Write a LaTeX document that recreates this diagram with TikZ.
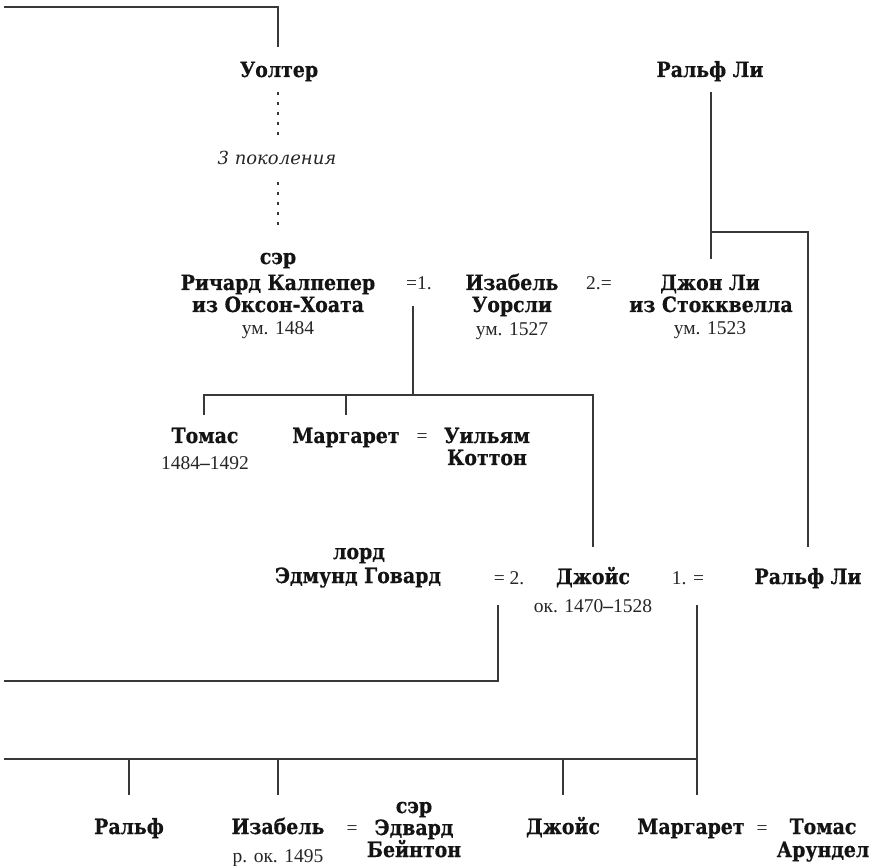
\documentclass[tikz,border=0pt]{standalone}
\usepackage{fontspec}
\setmainfont{DejaVu Serif Condensed}[BoldFeatures={FakeBold=0.6}]
\newfontfamily\datefont{Liberation Serif}
\newfontfamily\genfont{DejaVu Serif}
\newcommand{\dd}{{\bfseries –}}
\tikzset{
  nm/.style={font=\bfseries\fontsize{21}{24}\selectfont, inner sep=0pt, anchor=base, text=black!92},
  dt/.style={font=\datefont\fontsize{19.5}{22}\selectfont, inner sep=0pt, anchor=base, text=black!85},
  mk/.style={font=\datefont\fontsize{19.5}{22}\selectfont, inner sep=0pt, anchor=base, text=black!85},
  gn/.style={font=\genfont\itshape\fontsize{18}{21}\selectfont, inner sep=0pt, anchor=base, text=black!85},
  ln/.style={draw=black!78, line width=1.3pt},
  dl/.style={draw=black!78, line width=1.3pt, dash pattern=on 3pt off 7pt}
}
\begin{document}
\begin{tikzpicture}[x=1pt,y=-1pt]
\useasboundingbox (0,0) rectangle (876,866);
% ---- nodes (text lines, placed by baseline)
\node[nm] (walter) at (279,77) {Уолтер};
\node[gn] (gen) at (277,165) {3 поколения};
\node[nm] (ralphA) at (710,77) {Ральф Ли};
\node[nm] (richard0) at (278,264) {сэр};
\node[nm] (richard1) at (278,290) {Ричард Калпепер};
\node[nm] (richard2) at (278,312) {из Оксон-Хоата};
\node[dt] (richardD) at (278,335) {ум. 1484};
\node[mk] (mA) at (419,290) {=1.};
\node[nm] (isabel1) at (512,290) {Изабель};
\node[nm] (isabel2) at (512,312) {Уорсли};
\node[dt] (isabelD) at (512,336) {ум. 1527};
\node[mk] (mB) at (599,290) {2.=};
\node[nm] (john1) at (710,290) {Джон Ли};
\node[nm] (john2) at (711,312) {из Стокквелла};
\node[dt] (johnD) at (710,335) {ум. 1523};
\node[nm] (thomas) at (205,443) {Томас};
\node[dt] (thomasD) at (205,470) {1484\dd1492};
\node[nm] (margaret) at (346,443) {Маргарет};
\node[mk] (mC) at (422,443) {=};
\node[nm] (william1) at (487,443) {Уильям};
\node[nm] (william2) at (487,465) {Коттон};
\node[nm] (edmund1) at (359,559) {лорд};
\node[nm] (edmund2) at (358,583) {Эдмунд Говард};
\node[mk] (mD) at (509,584) {= 2.};
\node[nm] (joyce) at (593,584) {Джойс};
\node[dt] (joyceD) at (593,612) {ок. 1470\dd1528};
\node[mk] (mE) at (688,584) {1. =};
\node[nm] (ralphB) at (808,584) {Ральф Ли};
\node[nm] (ralph) at (129,834) {Ральф};
\node[nm] (isabelB) at (278,834) {Изабель};
\node[dt] (isabelBD) at (278,862) {р. ок. 1495};
\node[mk] (mF) at (352,834) {=};
\node[nm] (edward0) at (414,813) {сэр};
\node[nm] (edward1) at (414,835) {Эдвард};
\node[nm] (edward2) at (414,857) {Бейнтон};
\node[nm] (joyceB) at (563,834) {Джойс};
\node[nm] (margaretB) at (691,834) {Маргарет};
\node[mk] (mG) at (762,834) {=};
\node[nm] (thomasB1) at (823,834) {Томас};
\node[nm] (thomasB2) at (823,857) {Арундел};
% ---- connector points
\coordinate (tl) at (4,7);
\coordinate (tr) at (278,7);
\coordinate (wb) at (278,47);
\coordinate (d1a) at (278,92);
\coordinate (d1b) at (278,139);
\coordinate (d2a) at (278,182);
\coordinate (d2b) at (278,232);
\coordinate (ra) at (711,92);
\coordinate (rj) at (711,232);
\coordinate (rr) at (808,232);
\coordinate (jt) at (711,259);
\coordinate (rbt) at (808,547);
\coordinate (m1a) at (413,306);
\coordinate (m1b) at (413,395);
\coordinate (c1l) at (204,395);
\coordinate (c1r) at (593,395);
\coordinate (c1a) at (204,415);
\coordinate (c1m) at (346,395);
\coordinate (c1b) at (346,415);
\coordinate (jyt) at (593,547);
\coordinate (m2a) at (498,605);
\coordinate (m2b) at (498,681);
\coordinate (m2l) at (4,681);
\coordinate (m3a) at (697,605);
\coordinate (m3b) at (697,759);
\coordinate (m3l) at (4,759);
\coordinate (k1) at (129,759);
\coordinate (k1b) at (129,795);
\coordinate (k2) at (278,759);
\coordinate (k2b) at (278,795);
\coordinate (k3) at (563,759);
\coordinate (k3b) at (563,795);
\coordinate (k4b) at (697,795);
% ---- connectors
\draw[ln] (tl) -- (tr) -- (wb);
\draw[dl] (d1a) -- (d1b);
\draw[dl] (d2a) -- (d2b);
\draw[ln] (ra) -- (rj) -- (jt);
\draw[ln] (rj) -- (rr) -- (rbt);
\draw[ln] (m1a) -- (m1b);
\draw[ln] (c1a) -- (c1l) -- (c1r) -- (jyt);
\draw[ln] (c1m) -- (c1b);
\draw[ln] (m2a) -- (m2b) -- (m2l);
\draw[ln] (m3a) -- (k4b);
\draw[ln] (m3l) -- (m3b);
\draw[ln] (k1) -- (k1b);
\draw[ln] (k2) -- (k2b);
\draw[ln] (k3) -- (k3b);
\end{tikzpicture}
\end{document}
